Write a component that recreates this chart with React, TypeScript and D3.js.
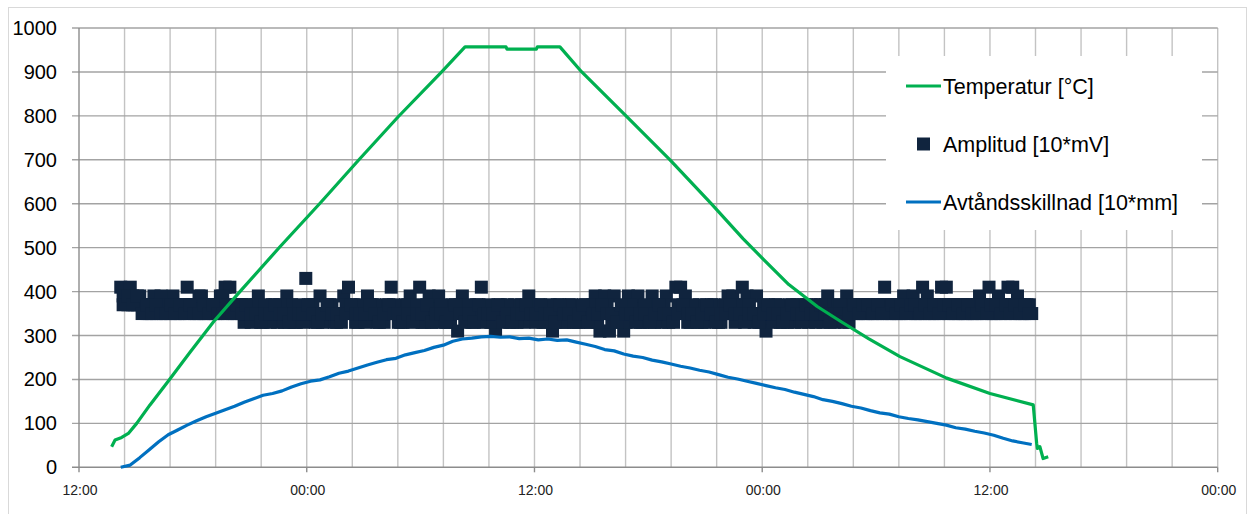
import * as d3 from "d3";
import { useEffect, useRef } from "react";

// x in hours after the first 12:00 tick
const xTickLabels = ["12:00", "00:00", "12:00", "00:00", "12:00", "00:00"];
const yTicks = [0, 100, 200, 300, 400, 500, 600, 700, 800, 900, 1000];

const seriesNames = ["Temperatur [°C]", "Amplitud [10*mV]", "Avtåndsskillnad [10*mm]"];
const seriesColors = ["#00b050", "#10243e", "#0070c0"];

// Temperatur [°C]
const tempHours = [
  1.72, 1.9, 2.25, 2.6, 3.04, 3.74, 4.7, 5.85, 7.1, 8.48, 10.59, 12.7, 14.75, 16.82,
  19.11, 20.34, 22.5, 22.55, 24.1, 24.15, 25.34, 26.49, 28.77, 31.14, 33.3, 35.0,
  36.05, 37.4, 38.9, 40.1, 41.6, 43.26, 45.72, 48.0, 50.28, 50.46, 50.5, 50.63, 50.8, 51.07,
];
const tempValues = [
  47, 62, 68, 77, 100, 142, 196, 262, 332, 400, 502, 601, 700, 798,
  900, 957, 957, 952, 952, 957, 957, 900, 802, 700, 601, 520,
  474, 416, 366, 333, 293, 252, 203, 168, 142, 55, 43, 47, 20, 24,
];

// Amplitud [10*mV]: one reading per 15 min slot, plus two more read mid-slot
const ampStart = 2.2;
const ampStep = 0.25;
const ampValues = [
  410, 390, 410, 370,
  390, 370, 350, 390, 370, 350, 370, 390, 350, 370,
  410, 370, 350,
  390, 350, 370, 350, 390,
  410, 410, 350, 370,
  330, 370, 350, 390, 330, 350, 370, 330, 350, 390, 370, 330,
  350, 430, 370,
  330, 390, 350, 370, 330, 350,
  390, 410, 370,
  330, 350, 390, 370, 330, 350,
  370, 410, 350,
  330, 370,
  390, 350, 410, 330,
  390, 370, 390,
  350, 330,
  370, 310, 390,
  350, 330, 370, 410,
  350, 330, 310,
  370, 350, 330, 370, 350,
  330, 390,
  350, 370,
  330, 350, 310,
  370, 330, 350,
  370, 330, 350, 370, 330, 390, 310, 390, 310, 390, 350, 310, 390, 370, 390, 330, 350, 390, 370,
  330, 390, 350, 410, 410, 390, 330, 350,
  370, 330, 350, 370,
  330, 350, 390, 390, 370, 410, 390, 350, 390, 330, 310, 350,
  370, 330, 350, 370, 330, 350,
  370, 330, 350, 370, 330, 390, 350, 370, 350, 390,
  370, 350, 370, 350, 370, 350, 370, 410, 350, 370,
  350, 390, 370, 390, 350, 410, 390, 350, 370, 410, 410, 370, 350, 370, 350,
  370, 350, 390, 370, 410, 350, 390, 370, 410, 410, 390, 350, 370, 350,
];
const ampValuesB = [
  390, 370, 390, 370,
  370, 350, 370, 350, 390, 370, 350, 370, 350, 370,
  350, 370, 390, 350, 370, 350, 370, 390, 350, 370, 350, 370,
  350, 330, 370, 350, 370, 330, 350, 370, 330, 350, 330, 370,
  330, 350, 370, 350, 330, 350, 370, 330, 350, 370, 350, 330,
  370, 330, 350, 370, 350, 330, 350, 370, 330, 350, 370, 350,
  370, 330, 350, 350, 330, 370, 350, 330, 350, 370, 350, 370,
  350, 350, 330, 370, 330, 350, 350, 370, 350, 330, 370, 350,
  370, 330, 350, 330, 370, 350, 350, 330, 370, 350, 330, 350,
  350, 370, 330, 350, 370, 330, 350, 350, 330, 370, 350, 330,
  370, 350, 330, 350, 370, 330, 350, 370, 350, 330, 370, 350,
  330, 350, 370, 350, 330, 370, 350, 330, 370, 350, 370, 330,
  350, 370, 350, 330, 370, 350, 330, 350, 370, 330, 350, 370,
  330, 350, 370, 350, 330, 370, 350, 330,
  350, 370, 350, 350, 370, 350, 370, 370, 350, 370,
  350, 370, 350, 350, 370, 350, 370, 350, 370, 350,
  350, 370, 350, 370, 350, 370, 370, 350, 370, 350,
  350, 370, 350, 370, 350, 370, 350, 370,
];
const ampValuesC = [
  370, 390, 370, 390,
  350, 370, 350, 370, 350, 350, 370, 350, 370, 350,
  370, 350, 350, 370, 350, 370, 350, 350, 370, 350, 370, 350,
  370, 350, 350, 330, 350, 350, 370, 350, 350, 330, 350, 350,
  350, 370, 350, 330, 350, 370, 350, 350, 330, 350, 370, 350,
  350, 350, 370, 350, 330, 350, 370, 350, 350, 330, 350, 330,
  350, 350, 370, 330, 350, 350, 330, 350, 370, 350, 330, 350,
  330, 370, 350, 350, 350, 370, 330, 350, 330, 350, 350, 370,
  350, 350, 370, 350, 350, 330, 370, 350, 350, 330, 350, 370,
  330, 350, 350, 370, 350, 350, 330, 370, 350, 350, 330, 350,
  350, 330, 350, 370, 350, 350, 330, 350, 370, 350, 350, 330,
  350, 370, 350, 330, 350, 350, 370, 350, 350, 330, 350, 350,
  330, 350, 370, 350, 350, 330, 350, 370, 350, 350, 370, 350,
  350, 370, 350, 330, 350, 350, 330, 350,
  370, 350, 370, 370, 350, 370, 350, 350, 370, 350,
  370, 350, 370, 370, 350, 370, 350, 370, 350, 370,
  370, 350, 370, 350, 370, 350, 350, 370, 350, 370,
  370, 350, 370, 350, 370, 350, 370, 350,
];

// Avtåndsskillnad [10*mm], one sample every 30 min
const distStart = 2.2;
const distStep = 0.5;
const distValues = [
  0, 5, 22, 40, 58, 74, 85, 96, 106, 115, 123, 131, 139, 148, 156, 164, 168, 174,
  183, 190, 196, 199, 206, 214, 219, 226, 233, 239, 245, 248, 256, 261, 266, 273,
  278, 287, 292, 294, 297, 298, 296, 297, 293, 294, 290, 292, 289, 290, 285, 280,
  275, 268, 265, 258, 253, 250, 244, 240, 235, 230, 226, 221, 217, 211, 205, 201,
  196, 191, 186, 181, 177, 171, 166, 161, 154, 150, 145, 139, 135, 129, 124, 121,
  115, 111, 108, 104, 100, 96, 90, 87, 82, 78, 73, 66, 60, 56, 52,
];

const App = () => {
  const svgRef = useRef<SVGSVGElement>(null);

  useEffect(() => {
    const width = 1253;
    const height = 514;
    const left = 79;
    const right = 1217.7;
    const top = 28;
    const bottom = 467.3;
    const font = "'Liberation Sans', Arial, sans-serif";

    const svg = d3.select(svgRef.current).attr("width", width).attr("height", height);
    svg.selectAll("*").remove();

    const x = d3.scaleLinear().domain([0, 60]).range([left, right]);
    const y = d3.scaleLinear().domain([0, 1000]).range([bottom, top]);

    // outer frame
    svg
      .append("rect")
      .attr("x", 8.5)
      .attr("y", 7.5)
      .attr("width", 1238)
      .attr("height", 510)
      .attr("fill", "#fff")
      .attr("stroke", "#d9d9d9");

    // vertical grid every 2.4 h
    svg
      .selectAll("vgrid")
      .data(d3.range(2.4, 60.01, 2.4))
      .join("line")
      .attr("x1", (d) => x(d))
      .attr("x2", (d) => x(d))
      .attr("y1", top)
      .attr("y2", bottom)
      .attr("stroke", "#c3c3c3")
      .attr("stroke-width", 1.4);

    // horizontal grid
    svg
      .selectAll("hgrid")
      .data(yTicks.slice(1))
      .join("line")
      .attr("x1", left - 7)
      .attr("x2", right)
      .attr("y1", (d) => y(d))
      .attr("y2", (d) => y(d))
      .attr("stroke", "#a3a3a3")
      .attr("stroke-width", 1.4);

    // axes
    svg
      .append("line")
      .attr("x1", left)
      .attr("x2", left)
      .attr("y1", top)
      .attr("y2", bottom)
      .attr("stroke", "#8c8c8c")
      .attr("stroke-width", 1.4);
    svg
      .append("line")
      .attr("x1", left - 7)
      .attr("x2", right)
      .attr("y1", bottom)
      .attr("y2", bottom)
      .attr("stroke", "#8c8c8c")
      .attr("stroke-width", 1.4);
    svg
      .selectAll("xtick")
      .data(xTickLabels)
      .join("line")
      .attr("x1", (d, i) => x(i * 12))
      .attr("x2", (d, i) => x(i * 12))
      .attr("y1", bottom)
      .attr("y2", bottom + 5)
      .attr("stroke", "#8c8c8c")
      .attr("stroke-width", 1.4);

    // tick labels
    svg
      .selectAll("ylabel")
      .data(yTicks)
      .join("text")
      .attr("x", 57)
      .attr("y", (d) => y(d) + 7)
      .attr("text-anchor", "end")
      .attr("font-family", font)
      .attr("font-size", 20)
      .attr("fill", "#000")
      .text((d) => d);
    svg
      .selectAll("xlabel")
      .data(xTickLabels)
      .join("text")
      .attr("x", (d, i) => x(i * 12) + 1)
      .attr("y", 495)
      .attr("text-anchor", "middle")
      .attr("font-family", font)
      .attr("font-size", 14)
      .attr("fill", "#222")
      .text((d) => d);

    // Amplitud squares
    const size = 13;
    const ampPoints = [
      ...ampValues.map((v, i) => [ampStart + i * ampStep, v]),
      ...ampValuesB.map((v, i) => [ampStart + ampStep / 2 + i * ampStep, v]),
      ...ampValuesC.map((v, i) => [ampStart + ampStep / 2 + i * ampStep, v]),
    ];
    svg
      .selectAll("amp")
      .data(ampPoints)
      .join("rect")
      .attr("x", (d) => x(d[0]) - size / 2)
      .attr("y", (d) => y(d[1]) - size / 2)
      .attr("width", size)
      .attr("height", size)
      .attr("fill", seriesColors[1]);

    const line = d3
      .line<[number, number]>()
      .x((d) => x(d[0]))
      .y((d) => y(d[1]));

    // Avtåndsskillnad
    svg
      .append("path")
      .datum(distValues.map((v, i) => [distStart + i * distStep, v] as [number, number]))
      .attr("d", line)
      .attr("fill", "none")
      .attr("stroke", seriesColors[2])
      .attr("stroke-width", 3.2)
      .attr("stroke-linejoin", "round");

    // Temperatur
    svg
      .append("path")
      .datum(tempHours.map((h, i) => [h, tempValues[i]] as [number, number]))
      .attr("d", line)
      .attr("fill", "none")
      .attr("stroke", seriesColors[0])
      .attr("stroke-width", 3.2)
      .attr("stroke-linejoin", "round");

    // legend
    const legend = svg.append("g");
    legend
      .append("rect")
      .attr("x", 886)
      .attr("y", 56)
      .attr("width", 316)
      .attr("height", 174)
      .attr("fill", "#fff");
    const rowY = [86, 144, 202];
    seriesNames.forEach((name, i) => {
      if (i === 1) {
        legend
          .append("rect")
          .attr("x", 917)
          .attr("y", rowY[i] - 6.5)
          .attr("width", size)
          .attr("height", size)
          .attr("fill", seriesColors[i]);
      } else {
        legend
          .append("line")
          .attr("x1", 906)
          .attr("x2", 941)
          .attr("y1", rowY[i])
          .attr("y2", rowY[i])
          .attr("stroke", seriesColors[i])
          .attr("stroke-width", 3);
      }
      legend
        .append("text")
        .attr("x", 943)
        .attr("y", rowY[i] + 7.5)
        .attr("font-family", font)
        .attr("font-size", 21.5)
        .attr("fill", "#000")
        .text(name);
    });
  }, []);

  return (
    <svg ref={svgRef} style={{ position: "absolute", left: 0, top: 0, display: "block" }}></svg>
  );
};

export default App;
